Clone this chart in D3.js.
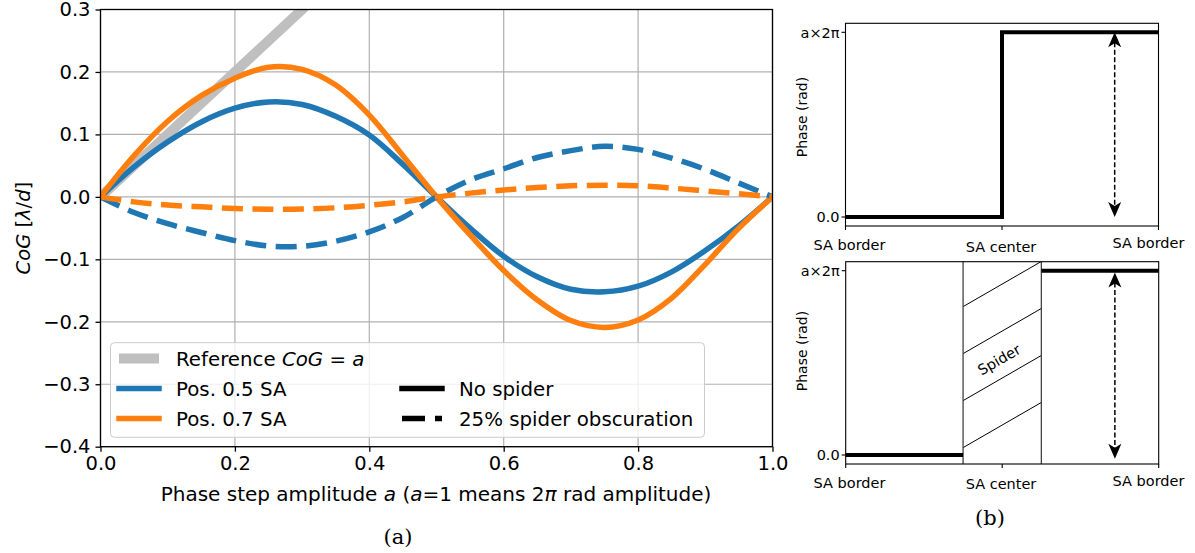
<!DOCTYPE html>
<html><head><meta charset="utf-8">
<script src="https://cdn.jsdelivr.net/npm/d3@7"></script>
<style>
html,body{margin:0;padding:0;background:#fff;}
svg{display:block;font-family:"DejaVu Sans",sans-serif;}
</style></head>
<body>
<svg id="chart" width="1195" height="553"></svg>
<script>
// ---------- data ----------
const amplitude = [0,0.05,0.1,0.15,0.2,0.25,0.3,0.35,0.4,0.45,0.5,0.55,0.6,0.65,0.7,0.75,0.8,0.85,0.9,0.95,1.0];
const pos05NoSpider = [0,0.048,0.088,0.12,0.142,0.152,0.148,0.129,0.099,0.052,0,-0.05,-0.095,-0.128,-0.148,-0.152,-0.143,-0.12,-0.086,-0.046,0];
const pos07NoSpider = [0,0.066,0.121,0.162,0.19,0.2075,0.204,0.179,0.131,0.066,0,-0.061,-0.118,-0.165,-0.198,-0.209,-0.197,-0.162,-0.108,-0.05,0];
const pos05Spider = [0,-0.025,-0.043,-0.057,-0.07,-0.0785,-0.079,-0.071,-0.056,-0.033,0,0.027,0.045,0.063,0.074,0.081,0.076,0.062,0.044,0.022,0];
const pos07Spider = [0,-0.008,-0.013,-0.016,-0.0187,-0.0198,-0.0195,-0.0175,-0.0135,-0.008,0,0.006,0.011,0.015,0.0177,0.0187,0.0177,0.014,0.0096,0.005,0];
const referenceA = [0,1];
const referenceCoG = [0,1];
const xTicks = [0,0.2,0.4,0.6,0.8,1.0];
const yTicks = [-0.4,-0.3,-0.2,-0.1,0.0,0.1,0.2,0.3];

// right panels
const saTicks = [0,0.5,1];
const saTickLabels = ["SA border","SA center","SA border"];
const phaseTicks = [0,1];
const phaseTickLabels = ["0.0","a×2π"];
const stepPos = [0,0.5,0.5,1];
const stepPhase = [0,0,1,1];
const spiderRange = [0.375,0.625];
const spiderLowPos = [0,0.375];
const spiderLowPhase = [0,0];
const spiderHighPos = [0.625,1];
const spiderHighPhase = [1,1];
const hatchStart = [0.04,0.295,0.55,0.805];
const hatchRise = 0.245;
const arrowPos = 0.86;

const svg = d3.select("#chart");
const blue = "#1f77b4", orange = "#ff7f0e", grey = "#bfbfbf";

// ---------- panel (a) ----------
const x = d3.scaleLinear([0,1],[100.5,772.5]);
const y = d3.scaleLinear([-0.4,0.3],[446.7,9.5]);
const fs = 19.5;

svg.append("defs").append("clipPath").attr("id","clipA")
  .append("rect").attr("x",x(0)).attr("y",y(0.3)).attr("width",x(1)-x(0)).attr("height",y(-0.4)-y(0.3));

const gridG = svg.append("g");
gridG.selectAll("line.vx").data(xTicks).join("line")
  .attr("x1",d=>x(d)).attr("x2",d=>x(d)).attr("y1",y(0.3)).attr("y2",y(-0.4))
  .attr("stroke","#b0b0b0").attr("stroke-width",1.2);
gridG.selectAll("line.hy").data(yTicks).join("line")
  .attr("y1",d=>y(d)).attr("y2",d=>y(d)).attr("x1",x(0)).attr("x2",x(1))
  .attr("stroke","#b0b0b0").attr("stroke-width",1.2);

const plotG = svg.append("g").attr("clip-path","url(#clipA)");
const lineGen = d3.line().x(d=>x(d[0])).y(d=>y(d[1])).curve(d3.curveCatmullRom.alpha(0.5));
const zipA = vals => amplitude.map((a,i)=>[a,vals[i]]);

plotG.append("path").datum(referenceA.map((a,i)=>[a,referenceCoG[i]]))
  .attr("d",d3.line().x(d=>x(d[0])).y(d=>y(d[1])))
  .attr("fill","none").attr("stroke",grey).attr("stroke-width",10);

const series = [
  {v:pos05NoSpider,c:blue,dash:null},
  {v:pos07NoSpider,c:orange,dash:null},
  {v:pos05Spider,c:blue,dash:"21,9.5"},
  {v:pos07Spider,c:orange,dash:"21,9.5"}
];
series.forEach(s=>{
  plotG.append("path").datum(zipA(s.v)).attr("d",lineGen)
    .attr("fill","none").attr("stroke",s.c).attr("stroke-width",5.5)
    .attr("stroke-linejoin","round")
    .attr("stroke-linecap",s.dash?"butt":"square")
    .attr("stroke-dasharray",s.dash);
});

// spines
svg.append("rect").attr("x",x(0)).attr("y",y(0.3)).attr("width",x(1)-x(0)).attr("height",y(-0.4)-y(0.3))
  .attr("fill","none").attr("stroke","#000").attr("stroke-width",1.3);

// axes
const xAxis = d3.axisBottom(x).tickValues(xTicks).tickFormat(d3.format(".1f")).tickSize(5).tickPadding(4);
const gx = svg.append("g").attr("transform",`translate(0,${y(-0.4)})`).call(xAxis);
gx.select(".domain").remove();
gx.selectAll("line").attr("stroke-width",1.3);
gx.selectAll("text").attr("font-size",fs).attr("font-family","DejaVu Sans").attr("fill","#000");

const yAxis = d3.axisLeft(y).tickValues(yTicks).tickFormat(d3.format(".1f")).tickSize(5).tickPadding(5);
const gy = svg.append("g").attr("transform",`translate(${x(0)},0)`).call(yAxis);
gy.select(".domain").remove();
gy.selectAll("line").attr("stroke-width",1.3);
gy.selectAll("text").attr("font-size",fs).attr("font-family","DejaVu Sans").attr("fill","#000");

// axis labels
const yl = svg.append("text").attr("transform",`translate(30,${(y(0.3)+y(-0.4))/2}) rotate(-90)`)
  .attr("text-anchor","middle").attr("font-size",fs);
yl.append("tspan").attr("font-style","italic").text("CoG");
yl.append("tspan").text(" [");
yl.append("tspan").attr("font-style","italic").text("λ");
yl.append("tspan").text("/");
yl.append("tspan").attr("font-style","italic").text("d");
yl.append("tspan").text("]");

const xl = svg.append("text").attr("x",436).attr("y",501)
  .attr("text-anchor","middle").attr("font-size",20);
xl.append("tspan").text("Phase step amplitude ");
xl.append("tspan").attr("font-style","italic").text("a");
xl.append("tspan").text(" (");
xl.append("tspan").attr("font-style","italic").text("a");
xl.append("tspan").text("=1 means 2");
xl.append("tspan").attr("font-style","italic").text("π");
xl.append("tspan").text(" rad amplitude)");

svg.append("text").attr("x",398).attr("y",544).attr("text-anchor","middle")
  .attr("font-family","'DejaVu Serif','Liberation Serif',serif").attr("font-size",21).text("(a)");

// legend
const lg = svg.append("g");
lg.append("rect").attr("x",110.5).attr("y",342.7).attr("width",594).attr("height",94.6).attr("rx",4)
  .attr("fill","#fff").attr("fill-opacity",0.8).attr("stroke","#cccccc").attr("stroke-width",1);
const legendItems = [
  {col:0,row:0,c:grey,w:10,dash:null,label:"ref"},
  {col:0,row:1,c:blue,w:5.5,dash:null,label:"Pos. 0.5 SA"},
  {col:0,row:2,c:orange,w:5.5,dash:null,label:"Pos. 0.7 SA"},
  {col:1,row:1,c:"#000",w:5.5,dash:null,label:"No spider"},
  {col:1,row:2,c:"#000",w:5.5,dash:"23,10",label:"25% spider obscuration"}
];
const colX = [119,402], rowY = [358.5,388.5,418.5];
legendItems.forEach(it=>{
  const hx = colX[it.col], hy = rowY[it.row];
  lg.append("line").attr("x1",hx).attr("x2",hx+40).attr("y1",hy).attr("y2",hy)
    .attr("stroke",it.c).attr("stroke-width",it.w)
    .attr("stroke-linecap",it.dash?"butt":(it.w>6?"butt":"square")).attr("stroke-dasharray",it.dash);
  const t = lg.append("text").attr("x",hx+57).attr("y",hy+7).attr("font-size",19.8);
  if(it.label==="ref"){
    t.append("tspan").text("Reference ");
    t.append("tspan").attr("font-style","italic").text("CoG");
    t.append("tspan").text(" = ");
    t.append("tspan").attr("font-style","italic").text("a");
  } else t.text(it.label);
});

// ---------- panel (b) ----------
const fsr = 14.5;
function phasePanel(opt){
  const xr = d3.scaleLinear([0,1],[opt.x0,opt.x1]);
  const yr = d3.scaleLinear([0,1],[opt.yZero,opt.yOne]);
  const g = svg.append("g");
  const pl = d3.line().x(d=>xr(d[0])).y(d=>yr(d[1]));
  if(opt.spider){
    const clipId = "clipSp";
    g.append("defs").append("clipPath").attr("id",clipId).append("rect")
      .attr("x",xr(spiderRange[0])).attr("y",opt.top).attr("width",xr(spiderRange[1])-xr(spiderRange[0])).attr("height",opt.bottom-opt.top);
    const hg = g.append("g").attr("clip-path",`url(#${clipId})`);
    hg.selectAll("line").data(hatchStart).join("line")
      .attr("x1",xr(spiderRange[0])).attr("x2",xr(spiderRange[1]))
      .attr("y1",d=>yr(d)).attr("y2",d=>yr(d+hatchRise))
      .attr("stroke","#000").attr("stroke-width",1);
    spiderRange.forEach(s=>g.append("line").attr("x1",xr(s)).attr("x2",xr(s)).attr("y1",opt.top).attr("y2",opt.bottom)
      .attr("stroke","#333").attr("stroke-width",1.2));
    const cx = xr(0.5)-3, cy = yr(0.5)-3;
    g.append("text").attr("transform",`translate(${cx},${cy}) rotate(-30)`).attr("text-anchor","middle")
      .attr("dominant-baseline","central").attr("font-size",fsr).text("Spider");
    g.append("path").datum(spiderLowPos.map((p,i)=>[p,spiderLowPhase[i]])).attr("d",pl)
      .attr("fill","none").attr("stroke","#000").attr("stroke-width",4);
    g.append("path").datum(spiderHighPos.map((p,i)=>[p,spiderHighPhase[i]])).attr("d",pl)
      .attr("fill","none").attr("stroke","#000").attr("stroke-width",4);
  } else {
    g.append("path").datum(stepPos.map((p,i)=>[p,stepPhase[i]])).attr("d",pl)
      .attr("fill","none").attr("stroke","#000").attr("stroke-width",4).attr("stroke-linejoin","miter");
  }
  // arrow
  const ax = xr(arrowPos), yTopA = yr(opt.arrowTop), yBotA = yr(opt.arrowBot);
  g.append("line").attr("x1",ax).attr("x2",ax).attr("y1",yTopA+10).attr("y2",yBotA-10)
    .attr("stroke","#000").attr("stroke-width",1.5).attr("stroke-dasharray","5,2.5");
  const head = "M0,0 L-6.5,15 L0,11 L6.5,15 Z";
  g.append("path").attr("d",head).attr("transform",`translate(${ax},${yTopA})`).attr("fill","#000");
  g.append("path").attr("d",head).attr("transform",`translate(${ax},${yBotA}) rotate(180)`).attr("fill","#000");
  // frame
  g.append("rect").attr("x",opt.x0).attr("y",opt.top).attr("width",opt.x1-opt.x0).attr("height",opt.bottom-opt.top)
    .attr("fill","none").attr("stroke","#000").attr("stroke-width",1.1);
  // ticks
  g.selectAll("line.xt").data(saTicks).join("line").attr("class","xt")
    .attr("x1",d=>xr(d)).attr("x2",d=>xr(d)).attr("y1",opt.bottom).attr("y2",opt.bottom+4)
    .attr("stroke","#000").attr("stroke-width",1.1);
  g.selectAll("text.xt").data(saTicks).join("text").attr("class","xt")
    .attr("x",(d,i)=>opt.labX[i]).attr("y",(d,i)=>opt.labY[i])
    .attr("text-anchor","middle").attr("font-size",fsr).text((d,i)=>saTickLabels[i]);
  g.selectAll("line.yt").data(phaseTicks).join("line").attr("class","yt")
    .attr("y1",d=>yr(d)).attr("y2",d=>yr(d)).attr("x1",opt.x0-4).attr("x2",opt.x0)
    .attr("stroke","#000").attr("stroke-width",1.1);
  g.selectAll("text.yt").data(phaseTicks).join("text").attr("class","yt")
    .attr("x",opt.x0-6).attr("y",d=>yr(d)+5.2)
    .attr("text-anchor","end").attr("font-size",fsr).text((d,i)=>phaseTickLabels[i]);
  g.append("text").attr("transform",`translate(${opt.x0-38.5},${opt.labelCY}) rotate(-90)`)
    .attr("text-anchor","middle").attr("font-size",fsr-0.5).text("Phase (rad)");
}

phasePanel({x0:845.5,x1:1158.5,top:23.3,bottom:226,yZero:217,yOne:32.3,spider:false,labelCY:117,
  arrowTop:1.0,arrowBot:0.0,labX:[849.5,1001,1148.5],labY:[249.5,251.5,248]});
phasePanel({x0:845.7,x1:1158.7,top:261.7,bottom:464,yZero:455,yOne:270.7,spider:true,labelCY:351,
  arrowTop:0.99,arrowBot:-0.02,labX:[849.5,1001,1148.5],labY:[487.5,488.5,486]});

svg.append("text").attr("x",990).attr("y",525).attr("text-anchor","middle")
  .attr("font-family","'DejaVu Serif','Liberation Serif',serif").attr("font-size",21).text("(b)");
</script>
</body></html>
